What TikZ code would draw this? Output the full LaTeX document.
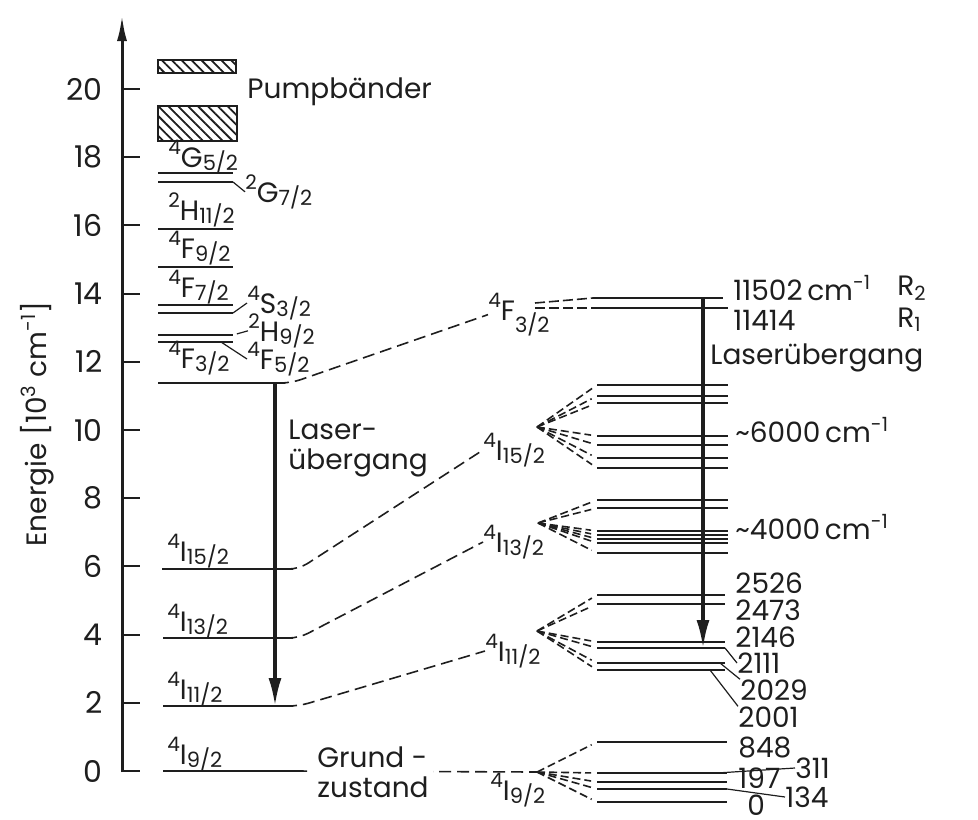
\documentclass[tikz,border=0pt]{standalone}
\usepackage{fontspec}
\setmainfont{Poppins}
\usetikzlibrary{arrows.meta, patterns.meta, positioning, calc}
\definecolor{ndInk}{HTML}{1E1E1E}
\tikzset{
  lvl/.style={draw=ndInk, line width=1pt},
  axisline/.style={draw=ndInk, line width=1.5pt, -{Latex[length=13pt,width=5pt]}},
  laser/.style={draw=ndInk, line width=1.6pt, -{Latex[length=14pt,width=6.5pt]}},
  link/.style={draw=ndInk, line width=0.8pt, dash pattern=on 6pt off 3pt},
  fanline/.style={draw=ndInk, line width=0.8pt, dash pattern=on 4pt off 2pt, shorten >=3pt},
  lead/.style={draw=ndInk, line width=0.6pt},
  lbl/.style={text=ndInk, font=\fontsize{14}{15}\selectfont, inner sep=0pt},
  pumpbox/.style={draw=ndInk, line width=1pt, inner sep=0pt, anchor=north west,
    pattern={Lines[angle=-45, distance=3.5pt, line width=0.9pt]}, pattern color=ndInk}
}
\newcommand{\term}[3]{\raisebox{0.45em}{\fontsize{10}{10}\selectfont#1}#2\raisebox{-0.12em}{\fontsize{10.5}{10}\selectfont#3}}

\begin{document}
\begin{tikzpicture}[x=0.5pt, y=-0.5pt]
  \useasboundingbox (0,0) rectangle (978,819);
  % energy axis
  \coordinate (ax0) at (122,772);
  \coordinate (axtop) at (122,15);
  \draw[axisline] (ax0) -- (axtop);
  \foreach \e in {0,2,...,20} {
    \coordinate (tk\e) at (122,{771-34.1*\e});
    \draw[lvl] (tk\e) -- ++(18,0);
    \node[lbl, anchor=east, font=\fontsize{15}{15}\selectfont] (tl\e) at ($(tk\e)+(-19,0)$) {\e};
  }
  \node[lbl, rotate=90] (ylab) at (37,424) {Energie [10\textsuperscript{3} cm\textsuperscript{-1}]};

  % pump bands and upper terms
  \node[pumpbox, minimum width=39pt, minimum height=6.5pt] (pb1) at (157,59) {};
  \node[pumpbox, minimum width=39.5pt, minimum height=17.5pt] (pb2) at (157,105) {};
  \node[lbl, anchor=west] (pump) at (247,92) {Pumpbänder};
  \foreach \y/\n in {173/g52, 182/g72, 229/h112, 267/f92, 305/f72, 313/s32, 335/h92, 342/f52}
    \draw[lvl] (158,\y) -- (233,\y) coordinate (\n);
  \node[lbl, anchor=base west] (G52) at (168,167) {\term{4}{G}{5/2}};
  \node[lbl, anchor=base west] (G72) at (245,202) {\term{2}{G}{7/2}};
  \node[lbl, anchor=base west] (H112) at (168,220) {\term{2}{H}{11/2}};
  \node[lbl, anchor=base west] (F92) at (168,258) {\term{4}{F}{9/2}};
  \node[lbl, anchor=base west] (F72) at (168,297) {\term{4}{F}{7/2}};
  \node[lbl, anchor=base west] (S32) at (247,313) {\term{4}{S}{3/2}};
  \node[lbl, anchor=base west] (H92) at (248,341) {\term{2}{H}{9/2}};
  \node[lbl, anchor=base west] (F52) at (247,369) {\term{4}{F}{5/2}};
  \node[lbl, anchor=base west] (F32) at (168,368) {\term{4}{F}{3/2}};
  \draw[lead] (g72) -- (G72.west);
  \draw[lead] (s32) -- (S32.west);
  \draw[lead, shorten <=2pt] (h92) -- (H92.west);
  \draw[lead] ($(f52)+(-12,0)$) -- (F52.west);

  % lower terms (left)
  \draw[lvl] (158,383) -- (285,383) coordinate (L32e);
  \draw[lvl] (162,569) -- (293,569) coordinate (L15e);
  \draw[lvl] (163,638) -- (293,638) coordinate (L13e);
  \draw[lvl] (163,706) -- (293,706) coordinate (L11e);
  \draw[lvl] (163,771) -- (295,771) coordinate (L9e);
  \node[lbl, anchor=base west] (I15) at (167,561) {\term{4}{I}{15/2}};
  \node[lbl, anchor=base west] (I13) at (167,631) {\term{4}{I}{13/2}};
  \node[lbl, anchor=base west] (I11) at (167,699) {\term{4}{I}{11/2}};
  \node[lbl, anchor=base west] (I9) at (167,764) {\term{4}{I}{9/2}};
  \coordinate (lz1) at (275,383);
  \coordinate (lz2) at (275,706);
  \draw[laser] (lz1) -- (lz2);
  \node[lbl, anchor=west, align=left] (lasL) at (288,449) {Laser-\\übergang};

  % terms in the crystal field (labels)
  \node[lbl, anchor=base west] (rF32) at (488,320) {\raisebox{0.45em}{\fontsize{10}{10}\selectfont 4}F\raisebox{-0.45em}{\fontsize{10.5}{10}\selectfont 3/2}};
  \node[lbl, anchor=base west] (r15) at (483,460) {\term{4}{I}{15/2}};
  \node[lbl, anchor=base west] (r13) at (483,552) {\term{4}{I}{13/2}};
  \node[lbl, anchor=base west] (r11) at (485,661) {\term{4}{I}{11/2}};
  \node[lbl, anchor=base west] (r9) at (490,800) {\term{4}{I}{9/2}};
  \coordinate (v15) at (537,427);
  \coordinate (v13) at (538,523);
  \coordinate (v11) at (537,631);
  \coordinate (v9) at (537,772);

  % connectors left -> right
  \draw[link, rounded corners=5pt] (L32e) -- ++(6,0) -- (rF32.west);
  \draw[link, rounded corners=5pt] (L15e) -- ++(6,0) -- (r15.west);
  \draw[link, rounded corners=5pt] (L13e) -- ++(6,0) -- (r13.west);
  \draw[link, rounded corners=5pt] (L11e) -- ++(6,0) -- (r11.west);
  \draw[link] (L9e) -- (v9);
  \node[lbl, anchor=west, align=left, fill=white, inner sep=2pt] (grund) at (313,772) {Grund -\\zustand};

  % Stark levels
  \coordinate (f32a) at (535,303);
  \coordinate (f32b) at (535,308);
  \coordinate (R2s) at (593,298);
  \coordinate (R1s) at (593,308);
  \draw[lvl] (R2s) -- (723,298);
  \draw[lvl] (R1s) -- (728,308);
  \draw[link, dash pattern=on 5pt off 2pt] (f32a) -- (R2s);
  \draw[link, dash pattern=on 5pt off 2pt] (f32b) -- (R1s);
  \foreach \y [count=\i] in {385,396,403,436,445,458,468} {
    \coordinate (s15-\i) at (597,\y);
    \draw[lvl] (s15-\i) -- (728,\y);
    \draw[fanline] (v15) -- (s15-\i);
  }
  \foreach \y [count=\i] in {500,508,531,535,539,543,553} {
    \coordinate (s13-\i) at (597,\y);
    \draw[lvl] (s13-\i) -- (728,\y);
    \draw[fanline] (v13) -- (s13-\i);
  }
  \foreach \y [count=\i] in {595,604,642,648,663,670} {
    \coordinate (s11-\i) at (597,\y);
    \draw[lvl] (s11-\i) -- (725,\y) coordinate (e11-\i);
    \draw[fanline] (v11) -- (s11-\i);
  }
  \foreach \y [count=\i] in {742,773,782,789,802} {
    \coordinate (s9-\i) at (597,\y);
    \draw[lvl] (s9-\i) -- (727,\y) coordinate (e9-\i);
    \draw[fanline] (v9) -- (s9-\i);
  }
  \coordinate (rz1) at (703,298);
  \coordinate (rz2) at (703,648);
  \draw[laser] (rz1) -- (rz2);

  % right labels
  \node[lbl, anchor=west] (n11502) at (733,288) {11502\,cm\textsuperscript{-1}};
  \node[lbl, anchor=west] (nR2) at (897,288) {R\textsubscript{2}};
  \node[lbl, anchor=west] (n11414) at (733,320) {11414};
  \node[lbl, anchor=west] (nR1) at (897,320) {R\textsubscript{1}};
  \node[lbl, anchor=west] (lasR) at (710,358) {Laserübergang};
  \node[lbl, anchor=west] (n6000) at (735,430) {\textasciitilde6000\,cm\textsuperscript{-1}};
  \node[lbl, anchor=west] (n4000) at (735,527) {\textasciitilde4000\,cm\textsuperscript{-1}};
  \node[lbl, anchor=west] (n2526) at (735,583) {2526};
  \node[lbl, anchor=west] (n2473) at (735,610) {2473};
  \node[lbl, anchor=west] (n2146) at (735,637) {2146};
  \node[lbl, anchor=west] (n2111) at (737,663) {2111};
  \node[lbl, anchor=west] (n2029) at (740,690) {2029};
  \node[lbl, anchor=west] (n2001) at (738,717) {2001};
  \node[lbl, anchor=west] (n848) at (738,747) {848};
  \node[lbl, anchor=west] (n311) at (795,768) {311};
  \node[lbl, anchor=west] (n197) at (738,778) {197};
  \node[lbl, anchor=west] (n134) at (785,797) {134};
  \node[lbl, anchor=west] (n0) at (747,805) {0};
  \draw[lead] (e11-4) -- (n2111.west);
  \draw[lead] ($(e11-5)+(-5,0)$) -- (n2029.north west);
  \draw[lead] ($(e11-6)+(-15,0)$) -- (n2001.north west);
  \draw[lead] ($(e9-2)+(-10,0)$) -- (n311.west);
  \draw[lead] (e9-4) -- (n134.west);
\end{tikzpicture}
\end{document}
